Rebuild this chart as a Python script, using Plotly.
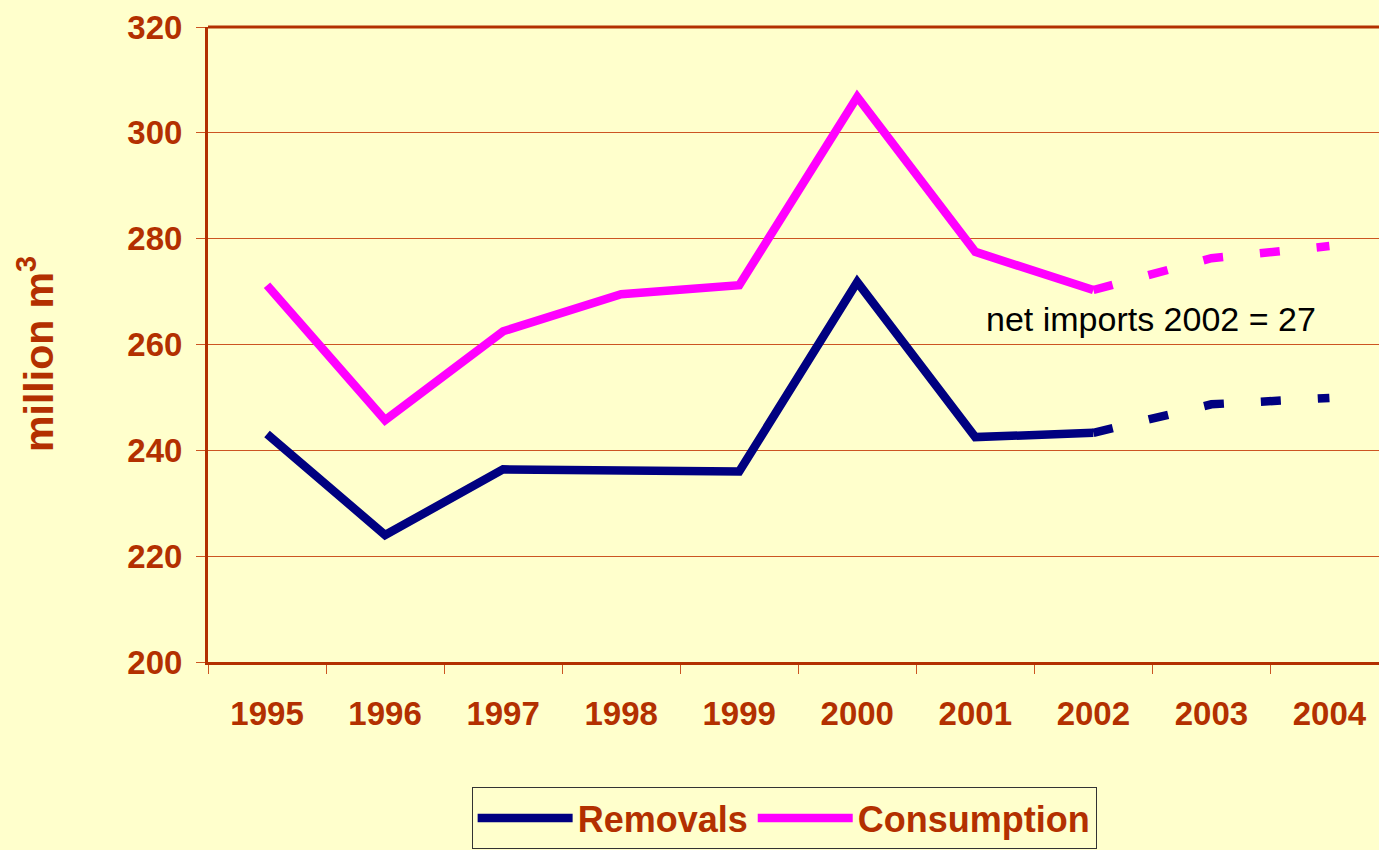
import plotly.graph_objects as go

years = ["1995", "1996", "1997", "1998", "1999", "2000", "2001", "2002", "2003", "2004"]
removals = [243.1, 224.0, 236.4, 236.4, 236.0, 271.8, 242.5, 243.3, 248.7, 249.9]
consumption = [271.2, 245.7, 262.5, 269.5, 271.2, 306.8, 277.5, 270.3, 276.3, 278.6]
y_ticks = [200, 220, 240, 260, 280, 300, 320]
annotation_text = "net imports 2002 = 27"
solid_end = 8  # index after 2002

BG = "#FFFFCC"
BROWN = "#B33000"
GRID = "#CC5522"
NAVY = "#000080"
MAGENTA = "#FF00FF"
FONT = "Arial, Liberation Sans, sans-serif"

fig = go.Figure()

for name, vals, col in [("Removals", removals, NAVY), ("Consumption", consumption, MAGENTA)]:
    fig.add_trace(go.Scatter(
        x=years[:solid_end], y=vals[:solid_end], mode="lines", name=name,
        legendgroup=name, line=dict(color=col, width=8.5),
    ))
    fig.add_trace(go.Scatter(
        x=years[solid_end - 1:], y=vals[solid_end - 1:], mode="lines", name=name,
        legendgroup=name, showlegend=False,
        line=dict(color=col, width=8.5, dash="20px,37px"),
    ))

fig.update_layout(
    width=1379, height=850,
    margin=dict(l=208, r=0, t=27, b=188),
    paper_bgcolor=BG, plot_bgcolor=BG,
    font=dict(family=FONT, color=BROWN),
    showlegend=True,
    legend=dict(
        orientation="h", x=0.492, xanchor="center", y=-0.197, yanchor="top",
        bgcolor=BG, bordercolor="#333333", borderwidth=1,
        font=dict(family=FONT, size=36, color=BROWN, weight="bold"),
        itemwidth=95, traceorder="normal",
    ),
    xaxis=dict(
        type="category", categoryorder="array", categoryarray=years,
        range=[-0.5, 9.42], showgrid=False, zeroline=False,
        showline=True, linecolor=BROWN, linewidth=3,
        ticks="outside", tickson="boundaries", ticklen=9, tickwidth=1, tickcolor=GRID,
        tickfont=dict(family=FONT, size=33, color=BROWN, weight="bold"),
        ticklabelstandoff=20,
    ),
    yaxis=dict(
        range=[200, 320], tickvals=y_ticks, showgrid=True, gridcolor=GRID, gridwidth=1,
        zeroline=False, showline=True, linecolor=BROWN, linewidth=3,
        ticks="outside", ticklen=9, tickwidth=1, tickcolor=GRID,
        tickfont=dict(family=FONT, size=33, color=BROWN, weight="bold"),
        ticklabelstandoff=7,
    ),
    shapes=[dict(type="line", xref="paper", yref="paper", x0=0, x1=1, y0=1, y1=1,
                 line=dict(color=BROWN, width=3))],
    annotations=[
        dict(text=annotation_text, xref="x", yref="y", x=7.49, y=264.8,
             showarrow=False, xanchor="center", yanchor="middle",
             font=dict(family=FONT, size=34, color="black")),
        dict(text="million m<sup>3</sup>", xref="paper", yref="paper",
             x=-0.147, y=0.485, textangle=-90, showarrow=False,
             xanchor="center", yanchor="middle",
             font=dict(family=FONT, size=41, color=BROWN, weight="bold")),
    ],
)

fig.write_html(
    "out.html",
    config={"displayModeBar": False},
    post_script="document.body.style.margin='0';document.body.style.background='#FFFFCC';document.body.style.overflow='hidden';",
)
